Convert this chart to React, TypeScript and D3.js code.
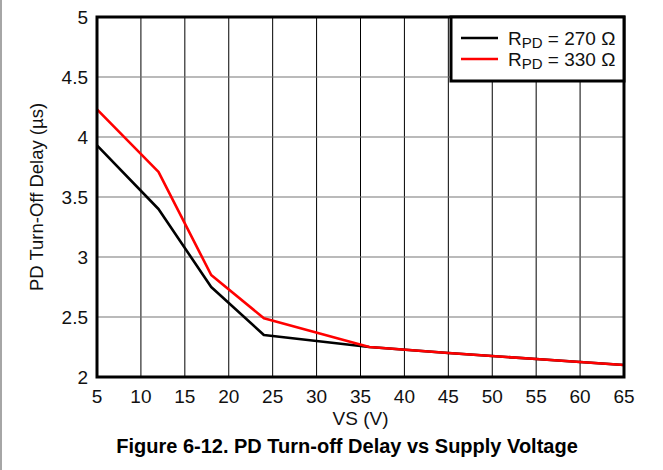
import React from "react";
import * as d3 from "d3";

const vs270 = [5, 12, 18, 24, 36, 45, 55, 65];
const delay270 = [3.93, 3.4, 2.75, 2.35, 2.25, 2.2, 2.15, 2.1];
const vs330 = [5, 12, 18, 24, 36, 45, 55, 65];
const delay330 = [4.23, 3.71, 2.85, 2.49, 2.25, 2.2, 2.15, 2.1];
const xTicks = [5, 10, 15, 20, 25, 30, 35, 40, 45, 50, 55, 60, 65];
const yTicks = [2, 2.5, 3, 3.5, 4, 4.5, 5];
const seriesNames = ["270", "330"];
const seriesColors = ["#000000", "#ff0000"];

const W = 663, H = 470;
const L = 97, R = 624, T = 17, B = 377;
const FONT = "Liberation Sans, Arial, Helvetica, sans-serif";

export default function App() {
  const x = d3.scaleLinear().domain([5, 65]).range([L, R]);
  const y = d3.scaleLinear().domain([2, 5]).range([B, T]);
  const line = d3.line<[number, number]>().x(d => x(d[0])).y(d => y(d[1]));
  const series = [
    vs270.map((v, i) => [v, delay270[i]] as [number, number]),
    vs330.map((v, i) => [v, delay330[i]] as [number, number]),
  ];
  return (
    <svg width={W} height={H} style={{ position: "absolute", left: 0, top: 0, background: "#fff" }} fontFamily={FONT}>
      <rect x={0} y={0} width={W} height={H} fill="#fff" />
      <line x1={1} x2={1} y1={0} y2={H} stroke="#888" strokeWidth={1.5} />
      {xTicks.slice(1, -1).map(t => (
        <line key={"gx" + t} x1={x(t)} x2={x(t)} y1={T} y2={B} stroke="#000" strokeWidth={1} />
      ))}
      {yTicks.slice(1, -1).map(t => (
        <line key={"gy" + t} x1={L} x2={R} y1={y(t)} y2={y(t)} stroke="#777" strokeWidth={1.2} />
      ))}
      {series.map((s, i) => (
        <path key={i} d={line(s) || ""} fill="none" stroke={seriesColors[i]} strokeWidth={2.6} strokeLinejoin="round" />
      ))}
      <rect x={L} y={T} width={R - L} height={B - T} fill="none" stroke="#000" strokeWidth={3} />
      {xTicks.map(t => (
        <text key={"tx" + t} x={x(t)} y={B + 26} textAnchor="middle" fontSize={19} fill="#111">{t}</text>
      ))}
      {yTicks.map(t => (
        <text key={"ty" + t} x={L - 9} y={y(t) + 7} textAnchor="end" fontSize={19} fill="#111">{t}</text>
      ))}
      <text x={(L + R) / 2} y={B + 48} textAnchor="middle" fontSize={19} fill="#111">VS (V)</text>
      <text transform={`translate(43, ${(T + B) / 2}) rotate(-90)`} textAnchor="middle" fontSize={18.5} fill="#111">PD Turn-Off Delay (µs)</text>
      <text x={347} y={453} textAnchor="middle" fontSize={20} fontWeight="bold" fill="#000">Figure 6-12. PD Turn-off Delay vs Supply Voltage</text>
      <g>
        <rect x={451} y={T} width={R - 451} height={64} fill="#fff" stroke="#000" strokeWidth={3} />
        {seriesNames.map((n, i) => (
          <g key={n}>
            <line x1={461} x2={498} y1={38 + i * 21} y2={38 + i * 21} stroke={seriesColors[i]} strokeWidth={2.6} />
            <text x={508} y={45 + i * 21} fontSize={19} fill="#111">
              R<tspan fontSize={15} dy={3}>PD</tspan><tspan dy={-3}> = {n} Ω</tspan>
            </text>
          </g>
        ))}
      </g>
    </svg>
  );
}
